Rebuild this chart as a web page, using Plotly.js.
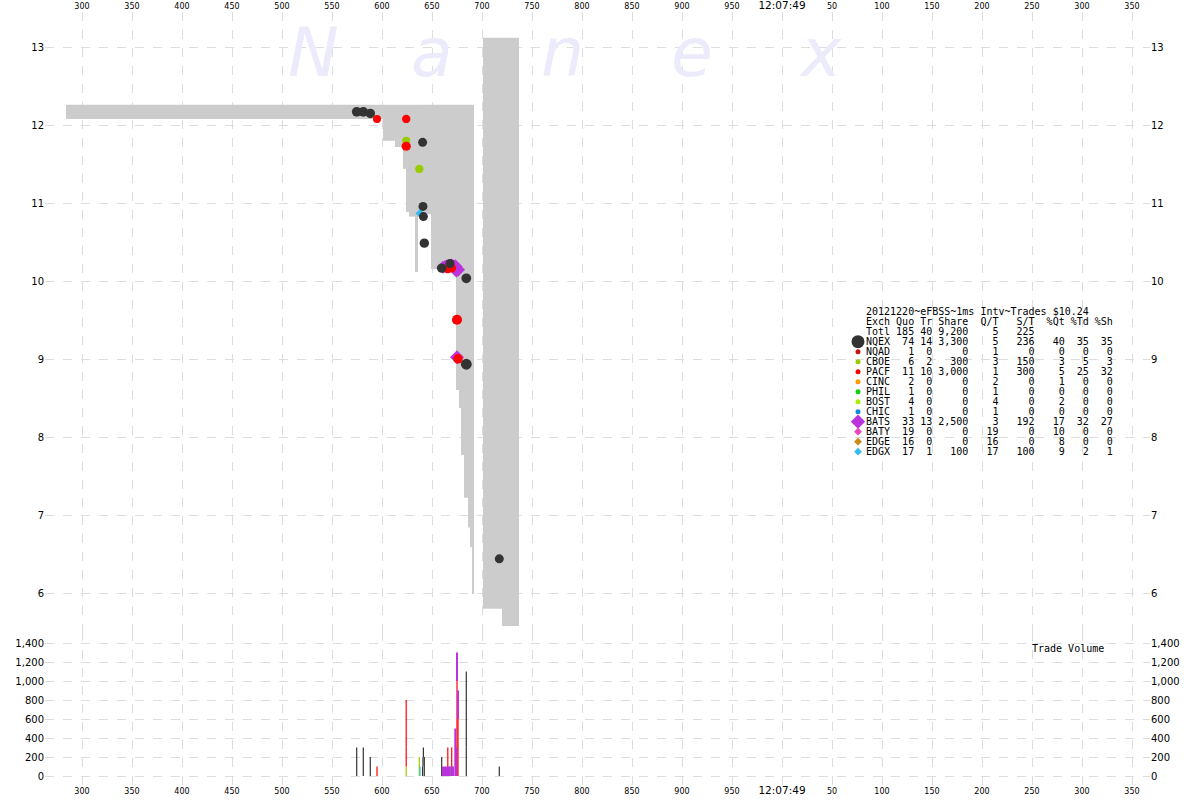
<!DOCTYPE html>
<html><head><meta charset="utf-8">
<script src="https://cdn.plot.ly/plotly-3.0.1.min.js"></script>
<style>html,body{margin:0;padding:0;background:#fff}#chart{width:1200px;height:800px}</style>
</head><body><div id="chart"></div>
<script>
// ---------- DATA ----------
// NBBO segments (ms after 12:07:48)
const nbboStart = [284,601,613,621,624,627,633,636,649,674,677,679,682,686,688,690,701,720];
const nbboEnd   = [601,613,621,624,627,633,636,649,674,677,679,682,686,688,690,692,720,737];
const nbboBid   = [12.08,11.80,11.72,11.44,10.89,10.83,10.12,10.86,10.16,8.61,8.38,7.78,7.23,6.85,6.60,6.00,5.81,5.59];
const nbboAsk   = [12.26,12.26,12.26,12.26,12.26,12.26,12.26,12.26,12.26,12.26,12.26,12.26,12.26,12.26,12.26,12.26,13.12,13.12];

// Trades per exchange: time (ms), price, shares
const nqexT = [574.7,581.3,588.3,640.6,641.0,641.4,642.3,659.7,668.0,684.3,684.3,717.3];
const nqexP = [12.17,12.17,12.15,11.78,10.96,10.83,10.49,10.17,10.23,10.04,8.94,6.45];
const nqexS = [300,300,200,100,100,100,200,200,100,300,800,100];

const pacfT = [595.0,624.2,624.2,665.8,669.7,675.0,676.0];
const pacfP = [12.08,12.08,11.73,10.16,10.17,9.51,9.01];
const pacfS = [100,200,500,300,300,1000,600];

const cboeT = [624.2,637.3];
const cboeP = [11.80,11.44];
const cboeS = [100,200];

const edgxT = [638.0];
const edgxP = [10.87];
const edgxS = [100];

const batsT = [661,663,665,667,669.4,671,673.3,674.3,675.0,676.0];
const batsP = [10.18,10.19,10.20,10.20,10.21,10.20,10.19,10.14,9.03,10.15];
const batsS = [100,100,100,100,100,100,500,300,300,300];

// Statistics table
const tableTitle = "20121220~eFBSS~1ms Intv~Trades $10.24";
const tableHeader = ["Exch","Quo","Tr","Share","Q/T","S/T","%Qt","%Td","%Sh"];
const totalRow = ["Totl",185,40,9200,5,225];
const exchNames = ["NQEX","NQAD","CBOE","PACF","CINC","PHIL","BOST","CHIC","BATS","BATY","EDGE","EDGX"];
const exchQuo   = [74,1,6,11,2,1,4,1,33,19,16,17];
const exchTr    = [14,0,2,10,0,0,0,0,13,0,0,1];
const exchShare = [3300,0,300,3000,0,0,0,0,2500,0,0,100];
const exchQT    = [5,1,3,1,2,1,4,1,3,19,16,17];
const exchST    = [236,0,150,300,0,0,0,0,192,0,0,100];
const exchPctQt = [40,0,3,5,1,0,2,0,17,10,8,9];
const exchPctTd = [35,0,5,25,0,0,0,0,32,0,0,2];
const exchPctSh = [35,0,3,32,0,0,0,0,27,0,0,1];

// Axis ticks
const xTickVals = [300,350,400,450,500,550,600,650,700,750,800,850,900,950,1000,1050,1100,1150,1200,1250,1300,1350];
const xTickText = ["300","350","400","450","500","550","600","650","700","750","800","850","900","950","<span style='font-size:10.5px'>12:07:49</span>","50","100","150","200","250","300","350"];
const priceTicks = [6,7,8,9,10,11,12,13];
const volTicks = [0,200,400,600,800,1000,1200,1400];

// ---------- STYLE / LAYOUT ----------
const W=1200,H=800,ML=45,MR=50,MT=12,MB=15;
const PW=W-ML-MR, PH=H-MT-MB;
const px2x = p => (p-ML)/PW;
const py2y = p => (H-MB-p)/PH;
const splitPx = 632;
const priceDomBottom = py2y(splitPx);
const xRange = [ML+218, W-MR+218];
const priceRange = [6 - (splitPx-594)/78.1, 13 + (47-MT)/78.1];
const volScale = 133/1400;
const volRange = [-(H-MB-776)/volScale, (776-splitPx)/volScale];

const C = {NQEX:'#333333',NQAD:'#cc1111',CBOE:'#99cc00',PACF:'#ff0000',CINC:'#ff9900',PHIL:'#11cc11',
           BOST:'#aaee00',CHIC:'#1188dd',BATS:'#bb33dd',BATY:'#ee44bb',EDGE:'#cc8811',EDGX:'#33bbee'};
const grid = '#dddddd';

const traces = [];
// NBBO band
traces.push({type:'bar', xaxis:'x', yaxis:'y',
  x: nbboStart.map((s,i)=>(s+nbboEnd[i])/2),
  width: nbboStart.map((s,i)=>nbboEnd[i]-s),
  base: nbboBid,
  y: nbboAsk.map((a,i)=>a-nbboBid[i]),
  marker:{color:'#cccccc', line:{width:0}}, hoverinfo:'skip'});

// Volume bars (stacked manually)
const stackBase = {};
function volTrace(t,s,color,w){
  const base=[];
  t.forEach((v,i)=>{const k=Math.round(v); const b=stackBase[k]||0; base.push(b); stackBase[k]=b+s[i];});
  return {type:'bar', xaxis:'x', yaxis:'y2', x:t, y:s, base:base, width:w,
    marker:{color:color, line:{width:0}}, hoverinfo:'skip'};
}
traces.push(volTrace(cboeT,cboeS,C.CBOE,1.2));
traces.push(volTrace(pacfT,pacfS,C.PACF,1.2));
traces.push(volTrace(nqexT,nqexS,C.NQEX,1.2));
traces.push(volTrace(edgxT,edgxS,C.EDGX,1.2));
traces.push(volTrace(batsT,batsS,C.BATS,2.0));

// Trade dots
function dotTrace(t,p,s,color,symbol,base){
  return {type:'scatter', mode:'markers', xaxis:'x', yaxis:'y', x:t, y:p,
    marker:{color:color, symbol:symbol, opacity:1, size:s.map(v=>base+Math.sqrt(v/100)), line:{width:0}}, hoverinfo:'skip'};
}
traces.push(dotTrace(edgxT,edgxP,edgxS,C.EDGX,'diamond',6));
traces.push(dotTrace(batsT,batsP,batsS,C.BATS,'diamond',9));
traces.push(dotTrace(cboeT,cboeP,cboeS,C.CBOE,'circle',7));
traces.push(dotTrace(pacfT,pacfP,pacfS,C.PACF,'circle',7));
traces.push(dotTrace(nqexT,nqexP,nqexS,C.NQEX,'circle',8));

// dummy traces to register mirror axes
traces.push({type:'scatter', x:[], y:[], xaxis:'x2', yaxis:'y', hoverinfo:'skip'});
traces.push({type:'scatter', x:[], y:[], xaxis:'x', yaxis:'y3', hoverinfo:'skip'});
traces.push({type:'scatter', x:[], y:[], xaxis:'x', yaxis:'y4', hoverinfo:'skip'});

// Legend markers (pixel-coordinate overlay axis y5)
const legX = 858+218, legY0 = 341.7, legDy = 10;
const legSym = {NQEX:'circle',NQAD:'circle',CBOE:'circle',PACF:'circle',CINC:'circle',PHIL:'circle',BOST:'circle',CHIC:'circle',BATS:'diamond',BATY:'diamond',EDGE:'diamond',EDGX:'diamond'};
const legSize = {NQEX:13,BATS:11};
traces.push({type:'scatter', mode:'markers', xaxis:'x', yaxis:'y5',
  x: exchNames.map(()=>legX), y: exchNames.map((e,i)=>legY0+i*legDy),
  marker:{color: exchNames.map(e=>C[e]), symbol: exchNames.map(e=>legSym[e]), opacity:1,
          size: exchNames.map(e=>legSize[e]||(legSym[e]==='diamond'?6:5)), line:{width:0}},
  hoverinfo:'skip'});

// Table text
const NB='\u00a0';
const lp=(v,n)=>{v=String(v); while(v.length<n) v=' '+v; return v;};
const rp=(v,n)=>{v=String(v); while(v.length<n) v=v+' '; return v;};
const fmt=v=>v.toLocaleString('en-US');
const lines=[tableTitle];
lines.push(tableHeader[0]+' '+tableHeader[1]+' '+tableHeader[2]+' '+tableHeader[3]+'  '+tableHeader[4]+'   '+tableHeader[5]+'  '+tableHeader[6]+' '+tableHeader[7]+' '+tableHeader[8]);
lines.push(rp(totalRow[0],4)+lp(totalRow[1],4)+lp(totalRow[2],3)+lp(fmt(totalRow[3]),6)+lp(totalRow[4],5)+lp(totalRow[5],6));
exchNames.forEach((e,i)=>{
  lines.push(rp(e,4)+lp(exchQuo[i],4)+lp(exchTr[i],3)+lp(fmt(exchShare[i]),6)+lp(exchQT[i],5)+lp(exchST[i],6)+lp(exchPctQt[i],5)+lp(exchPctTd[i],4)+lp(exchPctSh[i],4));
});
const annotations=[];
lines.forEach((l,i)=>{
  annotations.push({xref:'paper',yref:'paper',x:px2x(865),y:py2y(311.7+i*10),xanchor:'left',yanchor:'middle',
    text:l.replace(/ /g,NB),showarrow:false,borderpad:0,
    font:{family:'DejaVu Sans Mono, monospace',size:10,color:'#000'}});
});
annotations.push({xref:'paper',yref:'paper',x:px2x(1031),y:py2y(648),xanchor:'left',yanchor:'middle',
  text:'Trade'+NB+'Volume',showarrow:false,borderpad:0,font:{family:'DejaVu Sans Mono, monospace',size:10,color:'#000'}});
// Watermark
const wm=['N','a','n','e','x'], wmX=[313,432,562,692,820];
wm.forEach((c,i)=>annotations.push({xref:'paper',yref:'paper',x:px2x(wmX[i]),y:py2y(52),xanchor:'center',yanchor:'middle',
  text:c,showarrow:false,font:{family:'DejaVu Sans, sans-serif',size:68,color:'#ebebfb',style:'italic'}}));

const tickFontX={family:'DejaVu Sans, sans-serif',size:8,color:'#000'};
const tickFontY={family:'DejaVu Sans, sans-serif',size:10,color:'#000'};
const xBase={range:xRange,autorange:false,tickmode:'array',tickvals:xTickVals,ticktext:xTickText,
  showline:false,zeroline:false,ticks:'',tickfont:tickFontX,fixedrange:true};
const layout={
  width:W,height:H,margin:{l:ML,r:MR,t:MT,b:MB,pad:0},
  paper_bgcolor:'#fff',plot_bgcolor:'#fff',showlegend:false,barmode:'overlay',hovermode:false,
  xaxis:Object.assign({},xBase,{anchor:'y2',side:'bottom',showgrid:true,gridcolor:grid,griddash:'dash',gridwidth:1}),
  xaxis2:Object.assign({},xBase,{overlaying:'x',anchor:'y',side:'top',showgrid:false}),
  yaxis:{domain:[priceDomBottom,1],range:priceRange,autorange:false,tickmode:'array',tickvals:priceTicks,
    showgrid:true,gridcolor:grid,griddash:'dash',zeroline:false,showline:false,ticks:'',tickfont:tickFontY,anchor:'x',side:'left'},
  yaxis3:{overlaying:'y',side:'right',range:priceRange,autorange:false,tickmode:'array',tickvals:priceTicks,
    showgrid:false,zeroline:false,showline:false,ticks:'',tickfont:tickFontY,anchor:'x'},
  yaxis2:{domain:[0,priceDomBottom],range:volRange,autorange:false,tickmode:'array',tickvals:volTicks,tickformat:',d',
    showgrid:true,gridcolor:grid,griddash:'dash',zeroline:false,showline:false,ticks:'',tickfont:tickFontY,anchor:'x',side:'left'},
  yaxis4:{overlaying:'y2',side:'right',range:volRange,autorange:false,tickmode:'array',tickvals:volTicks,tickformat:',d',
    showgrid:false,zeroline:false,showline:false,ticks:'',tickfont:tickFontY,anchor:'x'},
  yaxis5:{overlaying:'y',range:[splitPx,MT],autorange:false,visible:false},
  annotations:annotations
};
Plotly.newPlot('chart',traces,layout,{staticPlot:true,displayModeBar:false});
</script></body></html>
